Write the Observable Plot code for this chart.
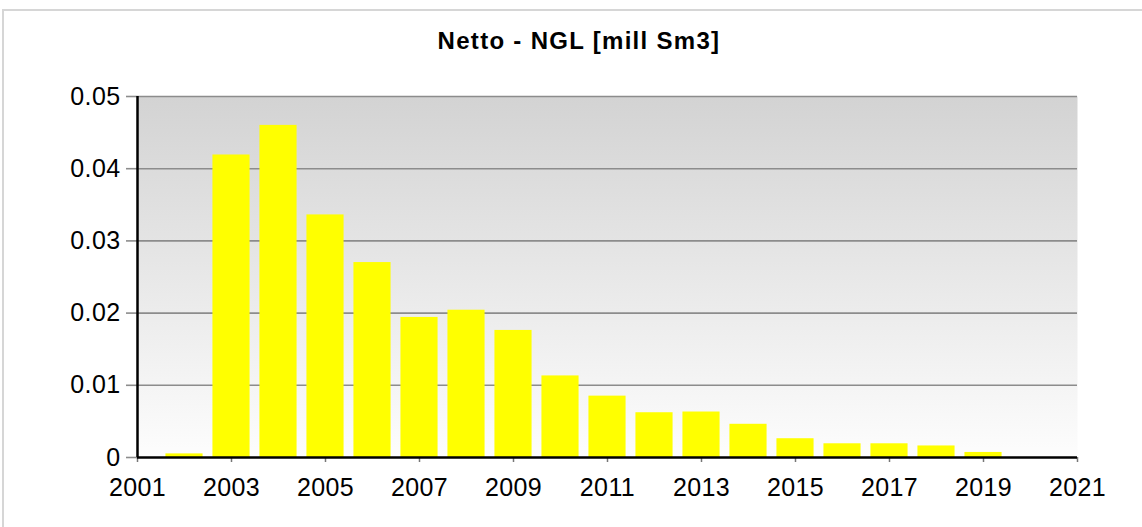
<!DOCTYPE html>
<html>
<head>
<meta charset="utf-8">
<script src="https://cdn.jsdelivr.net/npm/d3@7"></script>
<script src="https://cdn.jsdelivr.net/npm/@observablehq/plot@0.6"></script>
<style>
  html, body { margin: 0; padding: 0; background: #fff; }
  body { width: 1142px; height: 527px; overflow: hidden; position: relative; font-family: "Liberation Sans", Arial, sans-serif; }
  #frame { position: absolute; left: 2px; top: 9px; width: 1160px; height: 540px; border-top: 2px solid #d6d6d6; border-left: 2px solid #d6d6d6; box-sizing: border-box; pointer-events: none; }
  #title { height: 70px; line-height: 82px; text-align: center; font-weight: bold; font-size: 24px; letter-spacing: 1.3px; color: #000; padding-left: 16px; }
  #chart { position: relative; }
</style>
</head>
<body>
<div id="frame"></div>
<div id="title">Netto - NGL [mill Sm3]</div>
<div id="chart"></div>
<script>
const years = [2002, 2003, 2004, 2005, 2006, 2007, 2008, 2009, 2010, 2011, 2012, 2013, 2014, 2015, 2016, 2017, 2018, 2019];
const values = [0.0005, 0.0419, 0.0460, 0.0336, 0.0270, 0.0194, 0.0204, 0.0176, 0.0113, 0.0085, 0.0062, 0.0063, 0.0046, 0.0026, 0.0019, 0.0019, 0.0016, 0.0007];
const xTicks = [2001, 2003, 2005, 2007, 2009, 2011, 2013, 2015, 2017, 2019, 2021];
const yTicks = [0, 0.01, 0.02, 0.03, 0.04, 0.05];

const data = years.map((year, i) => ({year, value: values[i]}));
const half = 0.395;
const yFmt = d => d === 0 ? "0" : d3.format(".2f")(d);

const plot = Plot.plot({
  width: 1142,
  height: 457,
  marginTop: 26,
  marginBottom: 70,
  marginLeft: 137,
  marginRight: 65,
  style: {fontFamily: "'Liberation Sans', Arial, sans-serif", fontSize: "25px", letterSpacing: "0.4px", color: "#000", background: "transparent", overflow: "visible"},
  x: {domain: [2001, 2021], ticks: xTicks, tickFormat: d => String(d), label: null},
  y: {domain: [0, 0.05], ticks: yTicks, tickFormat: yFmt, label: null},
  marks: [
    Plot.frame({fill: "url(#bggrad)", stroke: "none"}),
    Plot.ruleY(yTicks.filter(d => d > 0), {stroke: "#8c8c8c", strokeWidth: 1.6}),
    Plot.rectY(data, {x1: d => d.year - half, x2: d => d.year + half, y: "value", fill: "#ffff00"}),
    Plot.axisY({ticks: yTicks, tickFormat: yFmt, tickSize: 11, tickPadding: 6, stroke: "#8c8c8c", strokeWidth: 1.6, label: null}),
    Plot.axisX({ticks: xTicks, tickFormat: d => String(d), tickSize: 5, tickPadding: 16, stroke: "#777", strokeWidth: 1.5, label: null}),
    Plot.ruleX([2001], {stroke: "#000", strokeWidth: 2.5}),
    Plot.ruleY([0], {stroke: "#000", strokeWidth: 2.5})
  ]
});

const svg = d3.select(plot);
const defs = svg.insert("defs", ":first-child");
const grad = defs.append("linearGradient").attr("id", "bggrad").attr("x1", 0).attr("y1", 0).attr("x2", 0).attr("y2", 1);
grad.append("stop").attr("offset", "0%").attr("stop-color", "#d3d3d3");
grad.append("stop").attr("offset", "100%").attr("stop-color", "#fdfdfd");

document.getElementById("chart").appendChild(plot);
</script>
</body>
</html>
